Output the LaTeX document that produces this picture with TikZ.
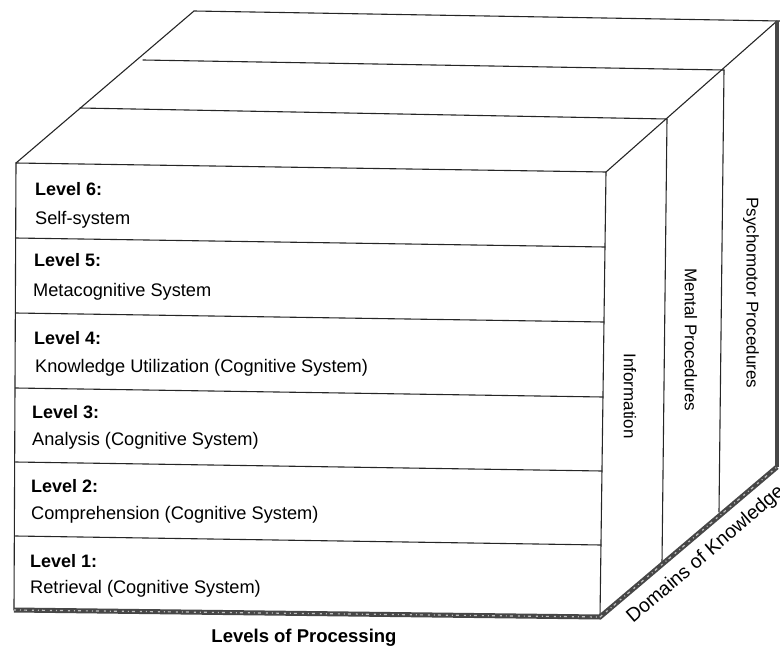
\documentclass[tikz,border=0pt]{standalone}
\usepackage{fontspec}
\setmainfont{Liberation Sans}
\usetikzlibrary{calc}
\begin{document}
\begin{tikzpicture}[x=1pt,y=-1pt,
  edge/.style={line width=1.1pt, black!85, line cap=round},
  base edge/.style={line width=5pt, black!72},
  base grain/.style={line width=1.2pt, black!25, dash pattern=on 2pt off 4pt on 1pt off 3pt on 3pt off 5pt},
  lvl/.style={anchor=base west, inner sep=0pt, font=\fontsize{18}{20}\selectfont\bfseries},
  desc/.style={anchor=base west, inner sep=0pt, font=\fontsize{18.2}{20}\selectfont},
  side/.style={rotate=-90, inner sep=0pt, font=\fontsize{17}{20}\selectfont},
  axis/.style={inner sep=0pt, font=\fontsize{18.5}{20}\selectfont\bfseries}]
\useasboundingbox (0,0) rectangle (780,648);

% corners of the block
\coordinate (FTL) at (16,163);
\coordinate (FTR) at (606,172);
\coordinate (FBR) at (600,617);
\coordinate (FBL) at (14,610);
\coordinate (BTL) at (194,11);
\coordinate (BTR) at (777,21);
\coordinate (BBR) at (777,467);
\coordinate (BTX) at (780,21);

% depth layers (top face and right face)
\coordinate (T1L) at (80,108);  \coordinate (T1R) at (667,119);
\coordinate (T2L) at (143,60);  \coordinate (T2R) at (724,70);
\coordinate (S1B) at (662,563);
\coordinate (S2B) at (719,512);

% front face outline
\draw[edge] (FBL) -- (FTL) -- (FTR) -- (FBR);
% top face
\draw[edge] (FTL) -- (BTL) -- (BTX);
\draw[edge] (FTR) -- (BTR);
\draw[edge] (T1L) -- (T1R);
\draw[edge] (T2L) -- (T2R);
% right face
\draw[edge] (T1R) -- (S1B);
\draw[edge] (T2R) -- (S2B);
\draw[line width=3.5pt, black!72] (BTR) -- (BBR);

% level dividers on the front face
\foreach \yl/\yr [count=\i] in {238/247, 313/322, 388/397, 462/471, 536/545}{
  \coordinate (DL\i) at (15.5,\yl);
  \coordinate (DR\i) at ({606-6*(\yr-172)/445},\yr);
  \draw[edge] (DL\i) -- (DR\i);
}

% heavy base edges
\draw[base edge] (FBL) -- (FBR) -- (BBR);
\draw[base grain] (FBL) -- (FBR) -- (BBR);

% level labels
\node[lvl]  (l6) at (35,195) {Level 6:};
\node[desc] (d6) at (35,224) {Self-system};
\node[lvl]  (l5) at (34,266) {Level 5:};
\node[desc] (d5) at (33,296) {Metacognitive System};
\node[lvl]  (l4) at (34,344) {Level 4:};
\node[desc] (d4) at (35,372) {Knowledge Utilization (Cognitive System)};
\node[lvl]  (l3) at (32,418) {Level 3:};
\node[desc] (d3) at (32,445) {Analysis (Cognitive System)};
\node[lvl]  (l2) at (31,492) {Level 2:};
\node[desc] (d2) at (31,519) {Comprehension (Cognitive System)};
\node[lvl]  (l1) at (30,567) {Level 1:};
\node[desc] (d1) at (30,593) {Retrieval (Cognitive System)};

% knowledge domains
\node[side] (info)  at (630,396) {Information};
\node[side] (mproc) at (691,340) {Mental Procedures};
\node[side] (pproc) at (751,293) {Psychomotor Procedures};

% axis captions
\node[axis, anchor=base] (lop) at (304,642) {Levels of Processing};
\node[axis, anchor=base west, rotate=40.7, font=\fontsize{19.5}{22}\selectfont] (dok) at (633,624) {Domains of Knowledge};
\end{tikzpicture}
\end{document}
